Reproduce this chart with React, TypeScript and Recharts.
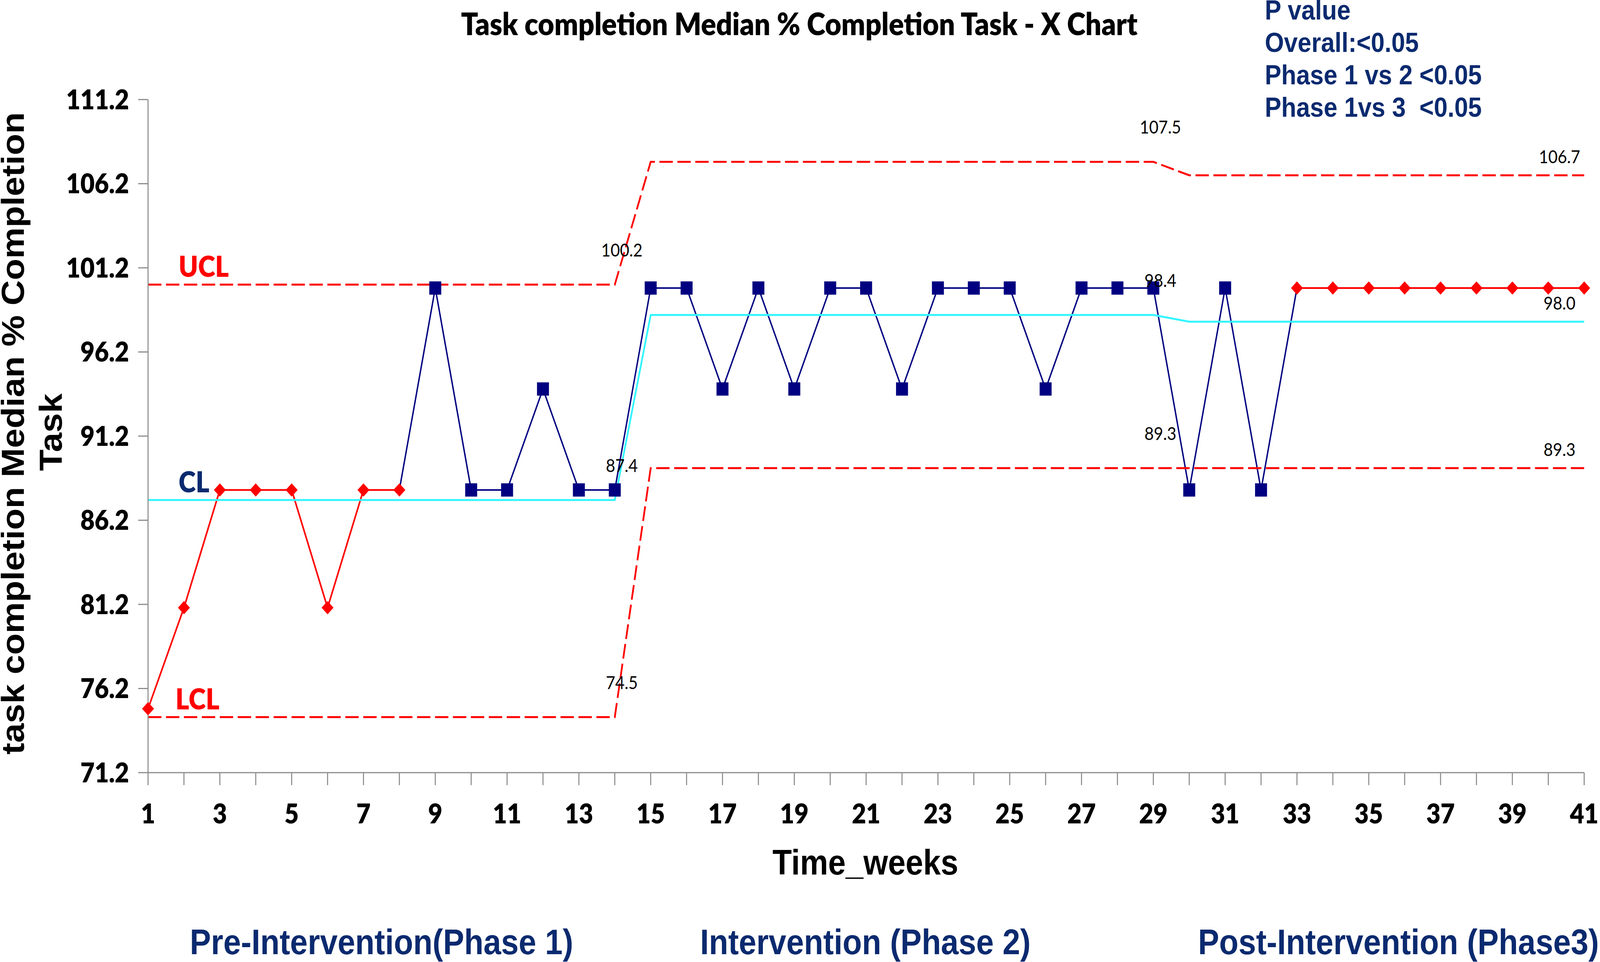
import { ComposedChart, Line, XAxis, YAxis, ReferenceDot } from 'recharts';

const weeks = [1, 2, 3, 4, 5, 6, 7, 8, 9, 10, 11, 12, 13, 14, 15, 16, 17, 18, 19, 20, 21, 22, 23, 24, 25, 26, 27, 28, 29, 30, 31, 32, 33, 34, 35, 36, 37, 38, 39, 40, 41];

// weeks 1-8 (red diamonds)
const preValues = [75, 81, 88, 88, 88, 81, 88, 88];
// weeks 9-32 (navy squares)
const midValues = [100, 88, 88, 94, 88, 88, 100, 100, 94, 100, 94, 100, 100, 94, 100, 100, 100, 94, 100, 100, 100, 88, 100, 88];
// weeks 33-41 (red diamonds)
const postValues = [100, 100, 100, 100, 100, 100, 100, 100, 100];

const uclValues = [100.2, 100.2, 100.2, 100.2, 100.2, 100.2, 100.2, 100.2, 100.2, 100.2, 100.2, 100.2, 100.2, 100.2,
  107.5, 107.5, 107.5, 107.5, 107.5, 107.5, 107.5, 107.5, 107.5, 107.5, 107.5, 107.5, 107.5, 107.5, 107.5,
  106.7, 106.7, 106.7, 106.7, 106.7, 106.7, 106.7, 106.7, 106.7, 106.7, 106.7, 106.7];
const clValues = [87.4, 87.4, 87.4, 87.4, 87.4, 87.4, 87.4, 87.4, 87.4, 87.4, 87.4, 87.4, 87.4, 87.4,
  98.4, 98.4, 98.4, 98.4, 98.4, 98.4, 98.4, 98.4, 98.4, 98.4, 98.4, 98.4, 98.4, 98.4, 98.4,
  98.0, 98.0, 98.0, 98.0, 98.0, 98.0, 98.0, 98.0, 98.0, 98.0, 98.0, 98.0];
const lclValues = [74.5, 74.5, 74.5, 74.5, 74.5, 74.5, 74.5, 74.5, 74.5, 74.5, 74.5, 74.5, 74.5, 74.5,
  89.3, 89.3, 89.3, 89.3, 89.3, 89.3, 89.3, 89.3, 89.3, 89.3, 89.3, 89.3, 89.3, 89.3, 89.3,
  89.3, 89.3, 89.3, 89.3, 89.3, 89.3, 89.3, 89.3, 89.3, 89.3, 89.3, 89.3];

const phaseEnds = [14, 29, 41];
const yTicks = [71.2, 76.2, 81.2, 86.2, 91.2, 96.2, 101.2, 106.2, 111.2];
const pValueLines = ['P value', 'Overall:<0.05', 'Phase 1 vs 2 <0.05', 'Phase 1vs 3  <0.05'];
const phaseNames = ['Pre-Intervention(Phase 1)', 'Intervention (Phase 2)', 'Post-Intervention (Phase3)'];

const W = 4550;
const H = 2464;
const RED = '#FF0000';
const NAVY = '#000080';
const TEXT_NAVY = '#0B2A6F';
const CYAN = '#33F5FF';
const CALIBRI = 'Lato, "Noto Sans", sans-serif';
const ARIAL = '"Liberation Sans", Arial, sans-serif';

const data = weeks.map((week, i) => ({
  week,
  red: i < 8 ? preValues[i] : i >= 32 ? postValues[i - 32] : null,
  navy: i === 7 ? preValues[7] : i >= 8 && i < 32 ? midValues[i - 8] : i === 32 ? postValues[0] : null,
  ucl: uclValues[i],
  cl: clValues[i],
  lcl: lclValues[i],
}));

const Square = (props: any) => {
  const { cx, cy, payload, index } = props;
  if (cx == null || cy == null || payload.week === 8 || payload.week === 33) return <g key={`sq-${index}`} />;
  return <rect key={`sq-${index}`} x={cx - 17} y={cy - 17} width={34} height={34} fill={NAVY} />;
};

const Diamond = (props: any) => {
  const { cx, cy, index } = props;
  if (cx == null || cy == null) return <g key={`dm-${index}`} />;
  return <polygon key={`dm-${index}`} points={`${cx},${cy - 17} ${cx + 17},${cy} ${cx},${cy + 17} ${cx - 17},${cy}`} fill={RED} />;
};

const limitLabels = phaseEnds.flatMap(end => [uclValues[end - 1], clValues[end - 1], lclValues[end - 1]].map(v => ({ week: end, value: v })));
const nameLabels = [
  { text: 'UCL', value: uclValues[0], color: RED },
  { text: 'CL', value: clValues[0], color: TEXT_NAVY },
  { text: 'LCL', value: lclValues[0], color: RED },
];

export default function App() {
  // the viewport in CSS px can differ from the photo size; stretch the fixed-size drawing to fill it
  const vw = typeof window !== 'undefined' ? window.innerWidth : W;
  const vh = typeof window !== 'undefined' ? window.innerHeight : H;
  const sx = vw / W;
  const sy = vh / H;

  return (
    <div style={{ position: 'absolute', left: 0, top: 0, width: vw, height: vh, overflow: 'hidden', background: '#fff' }}>
      <div style={{ position: 'absolute', left: 0, top: 0, width: W, height: H, transform: `scale(${sx}, ${sy})`, transformOrigin: '0 0' }}>
        <ComposedChart width={W} height={H} data={data} margin={{ top: 255, right: 45, bottom: 0, left: 0 }}>
          <XAxis dataKey="week" type="number" domain={[1, 41]} ticks={weeks} interval={0} height={485}
            tickFormatter={v => (v % 2 === 1 ? String(v) : '')}
            tick={{ fontSize: 70, fontFamily: CALIBRI, fontWeight: 800, fill: '#000' }}
            tickSize={32} tickMargin={48}
            axisLine={{ stroke: '#8c8c8c', strokeWidth: 3 }} tickLine={{ stroke: '#8c8c8c', strokeWidth: 3 }} />
          <YAxis type="number" domain={[71.2, 111.2]} ticks={yTicks} interval={0} width={421}
            tickFormatter={v => v.toFixed(1)}
            tick={{ fontSize: 70, fontFamily: CALIBRI, fontWeight: 800, fill: '#000' }}
            tickSize={28} tickMargin={26}
            axisLine={{ stroke: '#8c8c8c', strokeWidth: 3 }} tickLine={{ stroke: '#8c8c8c', strokeWidth: 3 }} />
          <Line dataKey="navy" stroke={NAVY} strokeWidth={4} dot={Square} activeDot={false} isAnimationActive={false} type="linear" />
          <Line dataKey="red" stroke={RED} strokeWidth={4.5} dot={Diamond} activeDot={false} isAnimationActive={false} type="linear" />
          <Line dataKey="cl" stroke={CYAN} strokeWidth={5} dot={false} activeDot={false} isAnimationActive={false} type="linear" />
          <Line dataKey="ucl" stroke={RED} strokeWidth={5} strokeDasharray="38 13" dot={false} activeDot={false} isAnimationActive={false} type="linear" />
          <Line dataKey="lcl" stroke={RED} strokeWidth={5} strokeDasharray="38 13" dot={false} activeDot={false} isAnimationActive={false} type="linear" />
          {limitLabels.map((l, i) => (
            <ReferenceDot key={`ll-${i}`} x={l.week} y={l.value} r={0}
              shape={(p: any) => (
                <text x={p.cx + (l.week === 41 ? -70 : 20)} y={p.cy - (l.week === 41 ? 49 : 90)} textAnchor="middle"
                  dominantBaseline="central" fontSize={46} fontFamily={CALIBRI} fill="#000">{l.value.toFixed(1)}</text>
              )} />
          ))}
          {nameLabels.map((l, i) => (
            <ReferenceDot key={`nl-${i}`} x={1} y={l.value} r={0}
              shape={(p: any) => (
                <text x={p.cx + (l.text === 'LCL' ? 78 : 87)} y={p.cy - 48} dominantBaseline="central"
                  fontSize={74} fontWeight={800} fontFamily={CALIBRI} fill={l.color}>{l.text}</text>
              )} />
          ))}
        </ComposedChart>
        <svg width={W} height={H} style={{ position: 'absolute', left: 0, top: 0, pointerEvents: 'none' }}>
          <text x={2273} y={90} textAnchor="middle" fontSize={80} fontWeight={800} fontFamily={CALIBRI} fill="#000">
            Task completion Median % Completion Task - X Chart
          </text>
          {pValueLines.map((t, i) => (
            <text key={t} x={3597} y={50 + i * 83} fontSize={70} fontWeight={700} fontFamily={ARIAL} fill={TEXT_NAVY} style={{ whiteSpace: 'pre' }}>{t}</text>
          ))}
          <text x={2461} y={2240} textAnchor="middle" fontSize={90} fontWeight={700} fontFamily={ARIAL} fill="#000">Time_weeks</text>
          {phaseNames.map((t, i) => (
            <text key={t} x={[1085, 2461, 3977][i]} y={2444} textAnchor="middle" fontSize={90} fontWeight={700} fontFamily={ARIAL} fill={TEXT_NAVY}>{t}</text>
          ))}
          <text x={68} y={1110} transform="rotate(-90, 68, 1110)" textAnchor="middle" fontSize={90} fontWeight={700} fontFamily={ARIAL} fill="#000">
            task completion Median % Completion
          </text>
          <text x={176} y={1107} transform="rotate(-90, 176, 1107)" textAnchor="middle" fontSize={90} fontWeight={700} fontFamily={ARIAL} fill="#000">
            Task
          </text>
        </svg>
      </div>
    </div>
  );
}
